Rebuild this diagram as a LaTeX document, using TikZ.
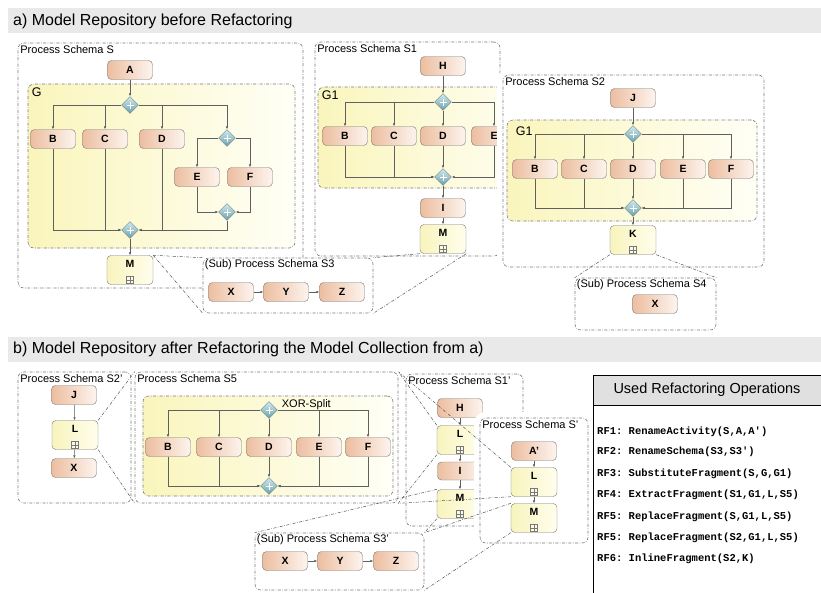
\documentclass[tikz,border=0pt]{standalone}
\usepackage{fontspec}
\setmainfont{Liberation Sans}
\setmonofont{Liberation Mono}
\usetikzlibrary{positioning,shapes.geometric,arrows.meta,fit}

\definecolor{actdark}{RGB}{236,190,160}
\definecolor{actlight}{RGB}{253,244,238}
\definecolor{subdark}{RGB}{248,244,190}
\definecolor{sublight}{RGB}{255,254,236}
\definecolor{grpdark}{RGB}{250,245,188}
\definecolor{grplight}{RGB}{255,255,246}
\definecolor{gwdark}{RGB}{105,160,172}
\definecolor{gwlight}{RGB}{210,235,238}
\definecolor{bandgray}{RGB}{233,233,233}
\definecolor{headgray}{RGB}{224,224,224}
\definecolor{edge}{RGB}{120,120,120}

\tikzset{
  act/.style={draw=edge, rounded corners=4pt, left color=actdark, right color=actlight,
    minimum width=45pt, minimum height=19pt, inner sep=0pt,
    font=\fontsize{10.5}{12}\selectfont\bfseries},
  sub/.style={draw=edge, rounded corners=4pt, left color=subdark, right color=sublight,
    minimum width=46pt, minimum height=29pt, inner sep=0pt},
  sublbl/.style={font=\fontsize{10.5}{12}\selectfont\bfseries, inner sep=0pt},
  plusbox/.style={draw=edge, minimum size=7pt, inner sep=0pt, fill=white!60!subdark,
    path picture={\draw[edge, line width=0.4pt]
      (path picture bounding box.north) -- (path picture bounding box.south)
      (path picture bounding box.west) -- (path picture bounding box.east);}},
  gate/.style={diamond, draw=edge!80!gwdark, top color=gwlight, bottom color=gwdark,
    minimum width=17pt, minimum height=17pt, inner sep=0pt, aspect=1,
    path picture={\draw[white, line width=0.6pt]
      ([xshift=-3.5pt]path picture bounding box.center) -- ([xshift=3.5pt]path picture bounding box.center)
      ([yshift=-3.5pt]path picture bounding box.center) -- ([yshift=3.5pt]path picture bounding box.center);}},
  flow/.style={draw=edge!80!black, line width=0.5pt, -{Latex[length=3pt,width=2.5pt]}},
  ddot/.style={dash pattern=on 3pt off 1.5pt on 0.6pt off 1.5pt},
  schema/.style={draw=edge, ddot, rounded corners=6pt, fill=white, line width=0.6pt, inner sep=0pt},
  halo/.style={preaction={draw=white, solid, line width=12pt}},
  group/.style={draw=edge, ddot, rounded corners=6pt, left color=grpdark, right color=grplight,
    inner sep=0pt, line width=0.6pt},
  ref/.style={draw=edge!70!black, ddot, line width=0.5pt},
  boxlbl/.style={anchor=north west, inner sep=1pt, font=\fontsize{11}{13}\selectfont},
  grplbl/.style={anchor=north west, inner sep=1pt, font=\fontsize{12.5}{14}\selectfont},
  title/.style={anchor=west, inner sep=0pt, font=\fontsize{16}{19}\selectfont},
  op/.style={anchor=west, inner sep=0pt, font=\ttfamily\bfseries\fontsize{10.5}{12}\selectfont}
}

% subprocess activity: name, position, label
\newcommand{\subproc}[3]{%
  \node[sub] (#1) at (#2) {};
  \node[sublbl] (#1-t) at ([yshift=-9pt]#1.north) {#3};
  \node[plusbox] (#1-p) at ([yshift=5pt]#1.south) {};
}

\begin{document}
\begin{tikzpicture}[x=1pt,y=-1pt]
\useasboundingbox (0,0) rectangle (821,592);

%a) header
\fill[bandgray] (8,8) rectangle (821,33);
\node[title] (ta) at (13,21) {a) Model Repository before Refactoring};

%Process Schema S
\node[schema, fit={(18,43) (303,288)}] (S) {};
\node[boxlbl] (S-l) at ([xshift=1.5pt,yshift=-1.5pt]S.north west) {Process Schema S};
\node[act] (A) at (130,70) {A};
\node[group, fit={(28,84) (295,248)}] (G) {};
\node[grplbl] (G-l) at ([xshift=3pt,yshift=-3pt]G.north west) {G};
\node[gate] (g1) at (130,105) {};
\node[act] (B) at (53,139) {B};
\node[act] (C) at (105,139) {C};
\node[act] (D) at (162,139) {D};
\node[gate] (g2) at (227,138) {};
\node[act] (E) at (197,177) {E};
\node[act] (F) at (250,177) {F};
\node[gate] (g3) at (227,212) {};
\node[gate] (g4) at (130,230) {};
\subproc{MS}{130,270}{M}

\draw[flow] (A) -- (g1);
\draw[flow] (g1.west) -| (B);
\draw[flow] (g1.west) -| (C);
\draw[flow] (g1.east) -| (D);
\draw[flow] (g1.east) -| (g2);
\draw[flow] (g2.west) -| (E);
\draw[flow] (g2.east) -| (F);
\draw[flow] (E) |- (g3.west);
\draw[flow] (F) |- (g3.east);
\draw[flow] (B) |- (g4.west);
\draw[flow] (C) |- (g4.west);
\draw[flow] (D) |- (g4.east);
\draw[flow] (g3) |- (g4.east);
\draw[flow] (g4) -- (MS);

%Process Schema S1
\node[schema, fit={(315,42) (500,256)}] (S1) {};
\node[boxlbl] (S1-l) at ([xshift=1.5pt,yshift=-1.5pt]S1.north west) {Process Schema S1};
\node[act] (H1) at (443,66) {H};
\node[group, fit={(318,87) (545,188)}] (G1a) {};
\node[grplbl] (G1a-l) at ([xshift=3pt,yshift=-3pt]G1a.north west) {G1};
\node[gate] (s1) at (443,102) {};
\node[act] (B1) at (345,136) {B};
\node[act] (C1) at (394,136) {C};
\node[act] (D1) at (443,136) {D};
\node[act] (E1) at (494,136) {E};
\node[gate] (j1) at (443,177) {};
\node[act] (I1) at (443,208) {I};
\subproc{M1}{443,239}{M}

\draw[flow] (H1) -- (s1);
\draw[flow] (s1.west) -| (B1);
\draw[flow] (s1.west) -| (C1);
\draw[flow] (s1) -- (D1);
\draw[flow] (s1.east) -| (E1);
\draw[flow] (B1) |- (j1.west);
\draw[flow] (C1) |- (j1.west);
\draw[flow] (D1) -- (j1);
\draw[flow] (E1) |- (j1.east);
\draw[flow] (j1) -- (I1);
\draw[flow] (I1) -- (M1);

%Process Schema S2
\node[schema, halo, fit={(503,75) (764,267)}] (S2) {};
\node[boxlbl] (S2-l) at ([xshift=1.5pt,yshift=-1.5pt]S2.north west) {Process Schema S2};
\node[act] (J2) at (633,98) {J};
\node[group, fit={(507,120) (757,221)}] (G1b) {};
\node[grplbl] (G1b-l) at ([xshift=8pt,yshift=-6pt]G1b.north west) {G1};
\node[gate] (s2) at (633,134) {};
\node[act] (B2) at (535,169) {B};
\node[act] (C2) at (584,169) {C};
\node[act] (D2) at (633,169) {D};
\node[act] (E2) at (683,169) {E};
\node[act] (F2) at (731,169) {F};
\node[gate] (j2) at (633,208) {};
\subproc{K}{633,240}{K}

\draw[flow] (J2) -- (s2);
\draw[flow] (s2.west) -| (B2);
\draw[flow] (s2.west) -| (C2);
\draw[flow] (s2) -- (D2);
\draw[flow] (s2.east) -| (E2);
\draw[flow] (s2.east) -| (F2);
\draw[flow] (B2) |- (j2.west);
\draw[flow] (C2) |- (j2.west);
\draw[flow] (D2) -- (j2);
\draw[flow] (E2) |- (j2.east);
\draw[flow] (F2) |- (j2.east);
\draw[flow] (j2) -- (K);

%(Sub) Process Schema S3
\node[schema, fit={(203,258) (373,313)}] (S3) {};
\node[boxlbl] (S3-l) at ([xshift=1pt,yshift=-1pt]S3.north west) {(Sub) Process Schema S3};
\node[act] (X3) at (231,292) {X};
\node[act] (Y3) at (286,292) {Y};
\node[act] (Z3) at (342,292) {Z};
\draw[flow] (X3) -- (Y3);
\draw[flow] (Y3) -- (Z3);

%(Sub) Process Schema S4
\node[schema, fit={(575,278) (716,330)}] (S4) {};
\node[boxlbl] (S4-l) at ([xshift=1pt,yshift=-1pt]S4.north west) {(Sub) Process Schema S4};
\node[act] (X4) at (655,304) {X};

%References a)
\draw[ref] (MS.north east) -- (S3.north west);
\draw[ref] (MS.north east) -- (S3.south west);
\draw[ref] (M1.south west) -- (S3.north east);
\draw[ref] (M1.south east) -- (S3.south east);
\draw[ref] (K.south west) -- (S4.north west);
\draw[ref] (K.south east) -- (S4.north east);

%b) header
\fill[bandgray] (8,337) rectangle (821,362);
\node[title] (tb) at (13,349) {b) Model Repository after Refactoring the Model Collection from a)};

%Process Schema S2'
\node[schema, fit={(18,372) (131,503)}] (S2p) {};
\node[boxlbl] (S2p-l) at ([xshift=1.5pt,yshift=-1.5pt]S2p.north west) {Process Schema S2'};
\node[act] (J2p) at (74,395) {J};
\subproc{L2}{75,435}{L}
\node[act] (X2p) at (74,468) {X};
\draw[flow] (J2p) -- (L2);
\draw[flow] (L2) -- (X2p);

%Process Schema S5
\node[schema, fit={(135,372) (398,503)}] (S5) {};
\node[boxlbl] (S5-l) at ([xshift=1.5pt,yshift=-1.5pt]S5.north west) {Process Schema S5};
\node[group, fit={(143,396) (393,496)}] (G5) {};
\node[gate] (s5) at (269,410) {};
\node[anchor=west, inner sep=0pt, font=\fontsize{11}{13}\selectfont] (xor) at ([xshift=4pt,yshift=5pt]s5.east) {XOR-Split};
\node[act] (B5) at (168,447) {B};
\node[act] (C5) at (219,447) {C};
\node[act] (D5) at (269,447) {D};
\node[act] (E5) at (319,447) {E};
\node[act] (F5) at (368,447) {F};
\node[gate] (j5) at (269,486) {};

\draw[flow] (s5.west) -| (B5);
\draw[flow] (s5.west) -| (C5);
\draw[flow] (s5) -- (D5);
\draw[flow] (s5.east) -| (E5);
\draw[flow] (s5.east) -| (F5);
\draw[flow] (B5) |- (j5.west);
\draw[flow] (C5) |- (j5.west);
\draw[flow] (D5) -- (j5);
\draw[flow] (E5) |- (j5.east);
\draw[flow] (F5) |- (j5.east);

%Process Schema S1'
\node[schema, fit={(406,374) (523,526)}] (S1p) {};
\node[boxlbl] (S1p-l) at ([xshift=1.5pt,yshift=-1.5pt]S1p.north west) {Process Schema S1'};
\node[act] (H1p) at (460,408) {H};
\subproc{L1p}{460,440}{L}
\node[act, minimum height=18pt] (I1p) at (460,471) {I};
\subproc{M1p}{460,504}{M}
\draw[flow] (H1p) -- (L1p);
\draw[flow] (L1p) -- (I1p);
\draw[flow] (I1p) -- (M1p);

%Process Schema S'
\node[schema, halo, fit={(480,418) (588,543)}] (Sp) {};
\node[boxlbl] (Sp-l) at ([xshift=1.5pt,yshift=-1.5pt]Sp.north west) {Process Schema S'};
\node[act] (Ap) at (534,451) {A'};
\subproc{Lp}{534,482}{L}
\subproc{Mp}{534,518}{M}
\draw[flow] (Ap) -- (Lp);
\draw[flow] (Lp) -- (Mp);

%(Sub) Process Schema S3'
\node[schema, fit={(255,533) (424,590)}] (S3p) {};
\node[boxlbl] (S3p-l) at ([xshift=1pt,yshift=-1pt]S3p.north west) {(Sub) Process Schema S3'};
\node[act] (X3p) at (285,561) {X};
\node[act] (Y3p) at (340,561) {Y};
\node[act] (Z3p) at (396,561) {Z};
\draw[flow] (X3p) -- (Y3p);
\draw[flow] (Y3p) -- (Z3p);

%Used refactoring operations
\fill[white] (593,375) rectangle (830,600);
\fill[headgray] (593,375) rectangle (830,405);
\draw[black, line width=0.8pt] (593,600) -- (593,375) -- (830,375);
\draw[black, line width=0.8pt] (593,405) -- (830,405);
\node[inner sep=0pt, font=\fontsize{14.5}{17}\selectfont] (ops) at (707,390) {Used Refactoring Operations};
\node[op] (rf1) at (597,432) {RF1: RenameActivity(S,A,A')};
\node[op] (rf2) at (597,452) {RF2: RenameSchema(S3,S3')};
\node[op] (rf3) at (597,474) {RF3: SubstituteFragment(S,G,G1)};
\node[op] (rf4) at (597,495) {RF4: ExtractFragment(S1,G1,L,S5)};
\node[op] (rf5) at (597,517) {RF5: ReplaceFragment(S,G1,L,S5)};
\node[op] (rf5b) at (597,538) {RF5: ReplaceFragment(S2,G1,L,S5)};
\node[op] (rf6) at (597,559) {RF6: InlineFragment(S2,K)};

%References b)
\draw[ref] (L2.north east) -- (S5.north west);
\draw[ref] (L2.south east) -- (S5.south west);
\draw[ref] (L1p.north west) -- (S5.north east);
\draw[ref] (L1p.south west) -- (S5.south east);
\draw[ref] (Lp.north west) -- (S5.north east);
\draw[ref] (Lp.south west) -- (S5.south east);
\draw[ref] (M1p.north west) -- (S3p.north west);
\draw[ref] (M1p.south west) -- (S3p.north east);
\draw[ref] (Mp.north west) -- (S3p.north east);
\draw[ref] (Mp.south west) -- (S3p.south east);

\end{tikzpicture}
\end{document}
